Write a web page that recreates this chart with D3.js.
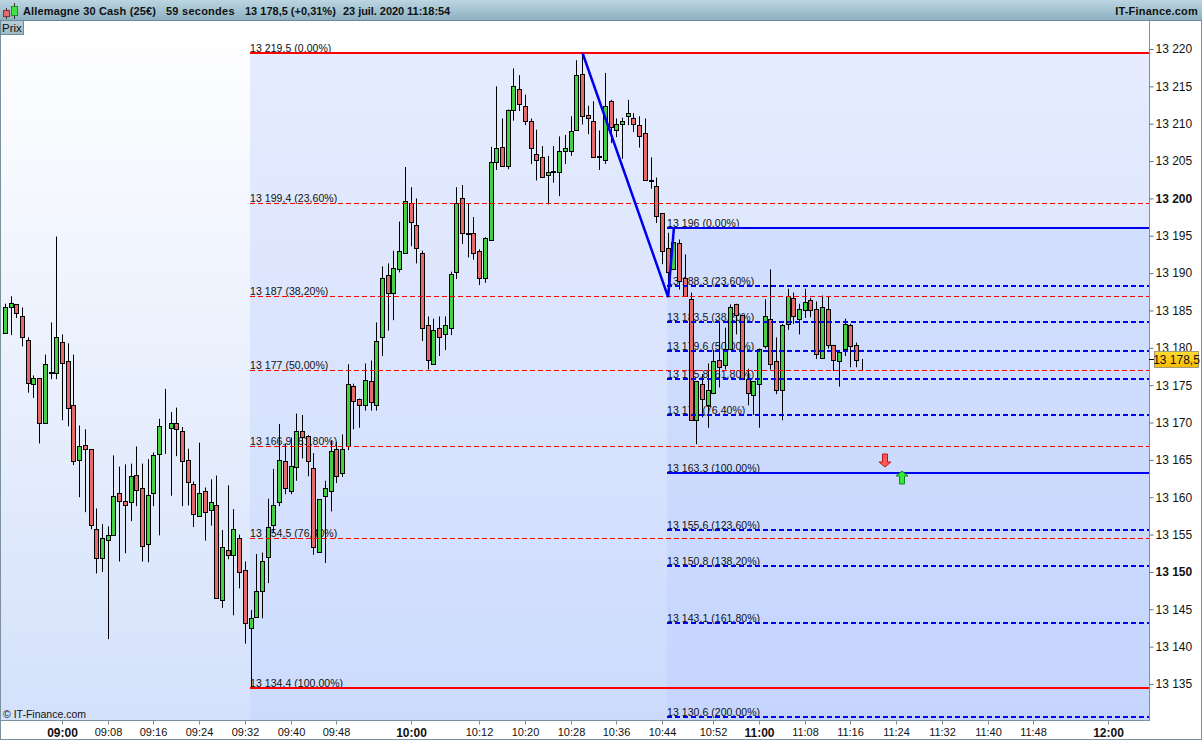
<!DOCTYPE html>
<html><head><meta charset="utf-8">
<script src="https://cdn.jsdelivr.net/npm/d3@7"></script>
<style>
html,body{margin:0;padding:0;background:#fff;overflow:hidden}
svg{display:block}
text{font-family:"Liberation Sans",Arial,sans-serif;fill:#111}
</style></head><body><svg id="c" width="1202" height="740"></svg>
<script>
const opens=[13182.0,13185.4,13185.8,13184.3,13181.0,13175.1,13175.9,13170.0,13176.6,13176.6,
13180.8,13178.3,13172.4,13165.0,13167.0,13166.4,13155.8,13151.8,13154.3,13155.0,
13160.5,13159.5,13159.3,13163.0,13161.3,13153.8,13160.5,13165.8,13169.5,13169.3,
13170.0,13168.8,13165.0,13161.8,13157.5,13160.9,13158.3,13159.0,13146.3,13153.0,
13152.3,13154.6,13150.3,13142.5,13144.0,13147.4,13152.0,13156.3,13159.3,13164.9,
13160.9,13164.0,13168.9,13168.2,13163.9,13152.7,13160.2,13160.9,13166.4,13163.3,
13166.8,13174.9,13173.2,13172.4,13175.5,13172.4,13181.4,13189.7,13187.4,13190.5,
13192.7,13199.4,13196.4,13192.7,13183.0,13177.9,13182.7,13181.8,13182.7,13190.2,
13200.0,13195.4,13195.4,13192.9,13189.4,13194.5,13204.9,13206.9,13204.4,13211.9,
13214.7,13212.4,13210.3,13205.9,13205.5,13203.2,13203.7,13203.5,13206.3,13206.4,
13209.2,13216.7,13211.2,13210.4,13205.7,13205.2,13213.0,13209.2,13209.9,13211.0,
13210.7,13209.8,13208.7,13202.4,13201.7,13198.0,13193.4,13190.5,13194.0,13189.3,
13186.5,13170.4,13175.2,13172.4,13173.9,13178.4,13177.7,13179.9,13185.9,13184.4,
13175.8,13173.7,13175.2,13180.3,13183.9,13178.3,13174.4,13183.2,13186.7,13183.9,
13185.0,13186.4,13185.2,13178.7,13185.2,13180.4,13178.3,13179.8,13183.0,13180.4,
13178.5];
const closes=[13185.5,13186.0,13184.6,13181.4,13175.3,13176.0,13169.9,13177.9,13176.8,13181.4,
13178.0,13172.0,13164.9,13166.8,13166.5,13156.3,13151.8,13154.6,13154.9,13160.1,
13159.5,13159.0,13162.9,13161.0,13153.5,13160.3,13165.6,13169.6,13169.6,13169.9,
13169.1,13164.9,13162.1,13157.8,13160.5,13158.0,13159.3,13146.5,13153.4,13152.3,
13155.8,13150.0,13143.1,13143.9,13147.4,13151.5,13156.0,13159.0,13165.0,13161.3,
13164.2,13168.8,13168.0,13164.9,13153.4,13159.7,13161.3,13166.2,13162.9,13166.4,
13175.2,13172.9,13172.3,13175.7,13172.8,13180.9,13189.4,13187.3,13190.7,13192.9,
13199.7,13196.9,13193.4,13182.7,13178.4,13182.4,13181.4,13183.0,13189.9,13199.4,
13195.4,13195.3,13192.7,13189.4,13194.7,13204.9,13206.7,13204.4,13211.9,13215.0,
13212.7,13210.4,13206.7,13205.2,13202.9,13203.5,13203.5,13206.4,13206.7,13209.0,
13216.5,13211.0,13210.7,13205.5,13205.5,13212.4,13209.5,13209.9,13210.3,13211.4,
13209.9,13208.4,13202.4,13202.3,13197.7,13192.9,13190.2,13194.2,13188.9,13187.0,
13170.3,13175.5,13173.2,13174.3,13178.3,13177.5,13179.9,13185.4,13184.4,13175.8,
13173.9,13175.5,13179.9,13184.2,13177.9,13174.3,13183.0,13187.0,13184.2,13185.2,
13186.2,13185.0,13179.2,13185.4,13180.4,13178.4,13179.5,13183.2,13180.3,13178.4,
13178.5];
const highs=[13185.9,13186.9,13185.8,13185.4,13181.4,13176.3,13175.9,13179.1,13183.4,13194.9,
13181.8,13180.6,13179.1,13169.6,13169.1,13166.4,13158.5,13156.4,13156.1,13165.6,
13164.1,13164.4,13164.5,13166.8,13164.5,13165.1,13166.0,13170.5,13174.5,13171.4,
13172.0,13169.4,13166.5,13162.1,13167.3,13161.3,13162.4,13162.9,13155.6,13161.6,
13158.4,13155.0,13151.4,13144.9,13152.4,13152.6,13159.8,13163.8,13169.8,13167.2,
13168.0,13171.2,13171.0,13168.3,13165.9,13159.7,13162.2,13167.6,13167.4,13168.4,
13177.8,13175.2,13173.2,13177.9,13178.3,13183.4,13190.9,13191.3,13193.0,13196.9,
13204.2,13201.5,13200.0,13193.0,13184.2,13183.9,13184.2,13184.2,13190.2,13201.5,
13201.8,13199.3,13197.5,13193.2,13194.8,13206.9,13215.0,13210.7,13211.9,13217.4,
13216.5,13213.9,13210.7,13209.2,13207.0,13205.7,13207.0,13208.3,13208.5,13211.0,
13218.5,13219.4,13212.4,13213.0,13209.1,13216.8,13213.2,13210.7,13210.8,13213.2,
13211.4,13211.0,13210.7,13205.5,13202.8,13198.0,13195.4,13194.8,13194.5,13192.5,
13187.4,13175.5,13176.5,13177.9,13179.7,13183.5,13182.7,13185.8,13185.9,13184.4,
13177.2,13175.5,13179.9,13186.5,13190.5,13181.4,13183.2,13187.9,13187.4,13185.9,
13187.9,13186.7,13186.2,13187.0,13186.8,13180.4,13179.5,13183.9,13183.2,13180.7,
13178.5];
const lows=[13182.0,13181.7,13184.0,13180.2,13174.0,13173.3,13167.2,13170.0,13175.8,13175.8,
13170.3,13169.5,13164.3,13160.0,13158.0,13155.7,13149.8,13150.0,13141.0,13155.0,
13151.4,13152.5,13156.8,13158.8,13151.4,13151.3,13158.8,13154.9,13165.8,13160.2,
13165.5,13158.8,13158.9,13156.0,13157.5,13154.2,13156.2,13146.5,13145.2,13151.7,
13144.2,13147.8,13140.4,13134.4,13144.0,13143.8,13148.5,13155.3,13158.8,13160.4,
13160.4,13162.2,13165.2,13162.8,13152.3,13152.7,13151.2,13158.1,13161.9,13162.7,
13166.3,13169.1,13169.3,13171.6,13171.6,13171.6,13178.9,13182.3,13183.7,13190.1,
13192.7,13193.6,13191.3,13180.9,13177.1,13177.7,13178.9,13179.7,13181.7,13189.2,
13193.9,13192.1,13191.8,13188.4,13188.7,13194.5,13203.8,13204.3,13203.9,13210.4,
13211.7,13209.8,13204.6,13202.4,13202.9,13199.2,13202.1,13200.3,13204.6,13205.7,
13209.2,13209.9,13208.6,13205.5,13203.8,13204.6,13207.4,13208.2,13205.3,13209.8,
13208.9,13206.8,13202.4,13201.3,13196.7,13191.2,13187.0,13190.5,13187.8,13186.8,
13170.2,13167.1,13170.7,13169.3,13173.8,13174.7,13177.1,13179.9,13181.8,13175.8,
13172.3,13171.0,13169.3,13179.9,13177.1,13173.8,13170.3,13182.4,13183.2,13181.8,
13184.0,13184.1,13178.5,13178.7,13179.9,13176.9,13174.8,13178.9,13177.4,13177.4,
13176.9];

const priceTicks=[13220,13215,13210,13205,13200,13195,13190,13185,13180,13175,13170,13165,13160,13155,13150,13145,13140,13135];
const boldPrices=[13200,13150];
const timeBars=[10,18,26,34,42,50,58,71,83,91,99,107,115,124,132,140,148,156,164,172,180,193];
const timeLabels=["09:00","09:08","09:16","09:24","09:32","09:40","09:48","10:00","10:12","10:20","10:28","10:36","10:44","10:52","11:00","11:08","11:16","11:24","11:32","11:40","11:48","12:00"];
const boldTimes=["09:00","10:00","11:00","12:00"];

const fibRedPrices=[13219.5,13199.4,13187,13177,13166.9,13154.5,13134.4];
const fibRedLabels=["13 219,5 (0,00%)","13 199,4 (23,60%)","13 187 (38,20%)","13 177 (50,00%)","13 166,9 (61,80%)","13 154,5 (76,40%)","13 134,4 (100,00%)"];
const fibRedSolid=[true,false,false,false,false,false,true];
const fibBluePrices=[13196,13188.3,13183.5,13179.6,13175.8,13171,13163.3,13155.6,13150.8,13143.1,13130.6];
const fibBlueLabels=["13 196 (0,00%)","13 188,3 (23,60%)","13 183,5 (38,20%)","13 179,6 (50,00%)","13 175,8 (61,80%)","13 171 (76,40%)","13 163,3 (100,00%)","13 155,6 (123,60%)","13 150,8 (138,20%)","13 143,1 (161,80%)","13 130,6 (200,00%)"];
const fibBlueSolid=[true,false,false,false,false,false,true,false,false,false,false];
const trendBars=[101,116,117];
const trendPrices=[13219.5,13186.8,13196];
const fibRedStartBar=43, fibBlueStartBar=116;
const signalBars=[154,157];
const signalPrices=[13164.0,13163.5];
const signalDirs=["down","up"];
const lastPrice=13178.5, lastLabel="13 178,5";
const titleParts=["Allemagne 30 Cash (25€)","59 secondes","13 178,5 (+0,31%)","23 juil. 2020 11:18:54"];

const W=1202,H=740,plotL=1,plotR=1149,plotT=21,plotB=720;
const x=d3.scaleLinear().domain([0,150]).range([5.4,862.4]);
const y=d3.scaleLinear().domain([13220,13135]).range([49,684]);
const px=i=>Math.floor(x(i))+.5;
const svg=d3.select("#c");
const defs=svg.append("defs");
function grad(id,stops){
  const g=defs.append("linearGradient").attr("id",id).attr("x1",0).attr("y1",0).attr("x2",0).attr("y2",1);
  stops.forEach(([o,c])=>g.append("stop").attr("offset",o).attr("stop-color",c));
}
grad("bg",[[0,"#ffffff"],[1,"#d4e1fb"]]);
grad("fib1",[[0,"#e6ecfe"],[1,"#ccdbfd"]]);
grad("fib2",[[0,"#d2dffd"],[1,"#c5d5fd"]]);
grad("head",[[0,"#bcd6e1"],[1,"#8db0c0"]]);
grad("btn",[[0,"#b6cfd9"],[1,"#9dbac6"]]);
grad("tag",[[0,"#ffdc30"],[1,"#f8bc00"]]);

svg.append("rect").attr("width",W).attr("height",H).attr("fill","#fff");
svg.append("rect").attr("x",plotL).attr("y",plotT).attr("width",plotR-plotL).attr("height",plotB-plotT).attr("fill","url(#bg)");
const fx1=Math.floor(x(fibRedStartBar))-1, fx2=Math.floor(x(fibBlueStartBar))-1;
const fy1=y(fibRedPrices[0]), fy2=y(fibBluePrices[0]);
svg.append("rect").attr("x",fx1).attr("y",fy1).attr("width",plotR-fx1).attr("height",plotB-fy1).attr("fill","url(#fib1)");
svg.append("rect").attr("x",fx2).attr("y",fy2).attr("width",plotR-fx2).attr("height",plotB-fy2).attr("fill","url(#fib2)");

// fib labels under the candles
const fibFont=10.5;
function fibLabels(prices,labels,x0){
  svg.append("g").selectAll("text").data(prices).join("text")
    .attr("x",x0).attr("y",p=>Math.round(y(p))-1).attr("font-size",fibFont).attr("letter-spacing",".05px")
    .text((p,i)=>labels[i]);
}
fibLabels(fibRedPrices,fibRedLabels,fx1);
fibLabels(fibBluePrices,fibBlueLabels,fx2);

// candles
const candles=d3.range(opens.length);
const gc=svg.append("g");
gc.selectAll("line").data(candles).join("line")
  .attr("x1",px).attr("x2",px).attr("y1",i=>y(highs[i])).attr("y2",i=>y(lows[i]))
  .attr("stroke","#000").attr("stroke-width",1);
gc.selectAll("rect").data(candles).join("rect")
  .attr("x",i=>px(i)-2).attr("width",4)
  .attr("y",i=>Math.round(y(Math.max(opens[i],closes[i])))+.5)
  .attr("height",i=>Math.max(0,Math.round(y(Math.min(opens[i],closes[i])))-Math.round(y(Math.max(opens[i],closes[i])))))
  .attr("fill",i=>closes[i]>=opens[i]?"#44cf44":"#e56a6a")
  .attr("stroke","#000").attr("stroke-width",1);

// fib lines over the candles
function fibLines(prices,solid,color,x0,dashW){
  const ly=(p,i)=>Math.round(y(p))+(solid[i]||dashW===2?0:.5);
  svg.append("g").selectAll("line").data(prices).join("line")
    .attr("x1",x0).attr("x2",plotR).attr("y1",ly).attr("y2",ly)
    .attr("stroke",color)
    .attr("stroke-width",(p,i)=>solid[i]?2:dashW)
    .attr("stroke-dasharray",(p,i)=>solid[i]?null:"5,3");
}
fibLines(fibRedPrices,fibRedSolid,"#ff0000",fx1,1);
fibLines(fibBluePrices,fibBlueSolid,"#0000f0",fx2,2);

// trend lines
svg.append("path").datum(trendBars).attr("fill","none").attr("stroke","#0000f0").attr("stroke-width",2.5)
  .attr("d",d3.line().x(b=>x(b)).y((b,i)=>y(trendPrices[i])));

// signal arrows
svg.append("g").selectAll("path").data(signalBars).join("path")
  .attr("transform",(b,i)=>`translate(${Math.round(x(b))},${Math.round(y(signalPrices[i]))})`)
  .attr("d",(b,i)=>signalDirs[i]==="down"
    ?"M-2.5,-13H2.5V-5H6L0,0L-6,-5H-2.5Z"
    :"M-2.5,13H2.5V5H6L0,0L-6,5H-2.5Z")
  .attr("fill",(b,i)=>signalDirs[i]==="down"?"#ff5a5a":"#38e838")
  .attr("stroke",(b,i)=>signalDirs[i]==="down"?"#c01818":"#0a8a20").attr("stroke-width",1);

// copyright
svg.append("text").attr("x",3).attr("y",718).attr("font-size",10.5).text("© IT-Finance.com");

// price axis
svg.append("rect").attr("x",plotR).attr("y",plotT).attr("width",W-plotR).attr("height",H-plotT).attr("fill","#fff");
const yAxis=svg.append("g").attr("transform",`translate(${plotR+.5},0)`)
  .call(d3.axisRight(y).tickValues(priceTicks).tickSize(4).tickPadding(2)
    .tickFormat(v=>"13 "+String(v).slice(2)));
yAxis.select(".domain").attr("stroke","#7b929e").attr("d",`M0,${plotT}V${plotB+1}`);
yAxis.selectAll(".tick line").attr("stroke","#5f7682");
yAxis.selectAll("text").attr("font-size",12).attr("font-family",'"Liberation Sans",Arial,sans-serif')
  .attr("font-weight",v=>boldPrices.includes(v)?"bold":null).attr("fill","#111");

// time axis
svg.append("rect").attr("x",0).attr("y",plotB).attr("width",plotR).attr("height",H-plotB).attr("fill","#fff");
const byBar=d3.scaleOrdinal().domain(timeBars).range(timeLabels);
const xAxis=svg.append("g").attr("transform",`translate(0,${plotB+.5})`)
  .call(d3.axisBottom(x).tickValues(timeBars).tickSize(4).tickPadding(4).tickFormat(b=>byBar(b)));
xAxis.select(".domain").attr("stroke","#7b929e").attr("d",`M0,0H${plotR+1}`);
xAxis.selectAll(".tick").attr("transform",b=>`translate(${Math.floor(x(b))+.5},0)`);
xAxis.selectAll(".tick line").attr("stroke","#7b929e");
xAxis.selectAll("text").attr("font-family",'"Liberation Sans",Arial,sans-serif').attr("fill","#111")
  .attr("font-size",b=>boldTimes.includes(byBar(b))?12:11)
  .attr("font-weight",b=>boldTimes.includes(byBar(b))?"bold":null);

// last price tag
const ly=Math.round(y(lastPrice));
svg.append("line").attr("x1",plotR).attr("x2",plotR+5).attr("y1",ly+.5).attr("y2",ly+.5).attr("stroke","#000");
svg.append("rect").attr("x",1154.5).attr("y",ly-7.5).attr("width",44).attr("height",16).attr("fill","url(#tag)").attr("stroke","#a59a78");
svg.append("text").attr("x",1176.5).attr("y",ly+5).attr("text-anchor","middle").attr("font-size",12).text(lastLabel);

// frame
svg.append("rect").attr("x",.5).attr("y",.5).attr("width",W-1).attr("height",H-1).attr("fill","none").attr("stroke","#7b929e");

// header
svg.append("rect").attr("x",0).attr("y",0).attr("width",W).attr("height",20).attr("fill","url(#head)");
svg.append("line").attr("x1",0).attr("x2",W).attr("y1",20.5).attr("y2",20.5).attr("stroke","#6e8a98");
const titleX=[23,166,245,343];
const titleSpacing=[.15,.25,0,-.05];
svg.append("g").selectAll("text").data(titleParts).join("text")
  .attr("x",(d,i)=>titleX[i]).attr("y",15).attr("font-size",11).attr("font-weight","bold").attr("letter-spacing",(d,i)=>titleSpacing[i]+"px").text(d=>d);
svg.append("text").attr("x",1198).attr("y",15).attr("text-anchor","end").attr("font-size",11).attr("font-weight","bold").attr("letter-spacing",".2px").text("IT-Finance.com");
// header icon
svg.append("line").attr("x1",6.5).attr("x2",6.5).attr("y1",8).attr("y2",19).attr("stroke","#333");
svg.append("rect").attr("x",3.5).attr("y",10.5).attr("width",6).attr("height",6).attr("fill","#e56a6a").attr("stroke","#8a3030");
svg.append("line").attr("x1",14.5).attr("x2",14.5).attr("y1",3).attr("y2",19).attr("stroke","#333");
svg.append("rect").attr("x",11.5).attr("y",6.5).attr("width",6).attr("height",9).attr("fill","#44e044").attr("stroke","#2a8a2a");
// Prix button
svg.append("rect").attr("x",.5).attr("y",20.5).attr("width",23).attr("height",14).attr("fill","url(#btn)").attr("stroke","#6e8a98");
svg.append("text").attr("x",2).attr("y",32).attr("font-size",11.5).text("Prix");
</script></body></html>
